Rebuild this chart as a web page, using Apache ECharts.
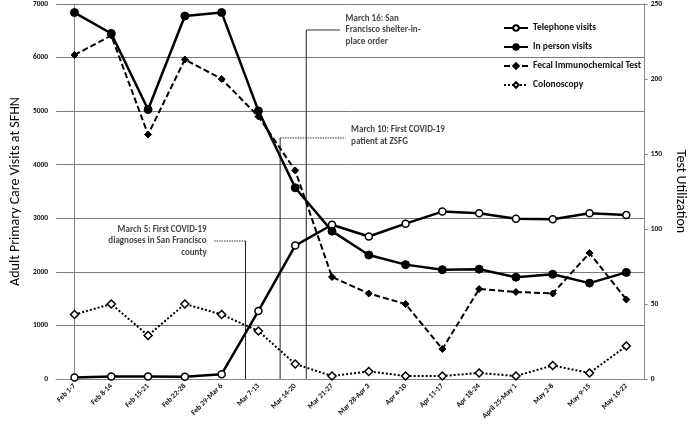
<!DOCTYPE html>
<html>
<head>
<meta charset="utf-8">
<script src="https://cdn.jsdelivr.net/npm/echarts@6/dist/echarts.min.js"></script>
<style>
html,body{margin:0;padding:0;background:#fff;}
#c{width:695px;height:424px;}
</style>
</head>
<body>
<div id="c"></div>
<script>
var categories = ['Feb 1-7','Feb 8-14','Feb 15-21','Feb 22-28','Feb 29-Mar 6','Mar 7-13','Mar 14-20','Mar 21-27','Mar 28-Apr 3','Apr 4-10','Apr 11-17','Apr 18-24','April 25-May 1','May 2-8','May 9-15','May 16-22'];
var telephoneVisits = [30, 45, 45, 40, 90, 1270, 2490, 2880, 2660, 2900, 3125, 3095, 2990, 2980, 3095, 3060];
var inPersonVisits = [6840, 6450, 5030, 6775, 6840, 5005, 3570, 2760, 2315, 2135, 2040, 2050, 1900, 1955, 1790, 1990];
var fitTests = [216, 229, 163, 213, 200, 175, 139, 68, 57, 50, 20, 60, 58, 57, 84, 53];
var colonoscopies = [43, 50, 29, 50, 43, 32, 10, 2, 5, 2, 2, 4, 2, 9, 4, 22];
var leftTicks = {min: 0, max: 7000, interval: 1000};
var rightTicks = {min: 0, max: 250, interval: 50};

// annotations: position along the category axis (index units), height on left axis, leader end
var annoText = ['March 5: First COVID-19\ndiagnoses in San Francisco\ncounty', 'March 10: First COVID-19\npatient at ZSFG', 'March 16: San\nFrancisco shelter-in-\nplace order'];
var annoX = [4.65, 5.59, 6.30];
var annoTop = [2576, 4499, 6515];
var annoEnd = [3.77, 7.37, 7.22];

var FONT = 'Carlito, Lato, sans-serif';
var chart = echarts.init(document.getElementById('c'), null, {renderer: 'canvas'});

var series = [
  {name: 'Telephone visits', type: 'line', data: telephoneVisits, yAxisIndex: 0, z: 5,
   symbol: 'circle', symbolSize: 7,
   lineStyle: {color: '#000', width: 2.5},
   itemStyle: {color: '#fff', borderColor: '#000', borderWidth: 1.5}},
  {name: 'In person visits', type: 'line', data: inPersonVisits, yAxisIndex: 0, z: 5,
   symbol: 'circle', symbolSize: 8,
   lineStyle: {color: '#000', width: 2.5},
   itemStyle: {color: '#000', borderColor: '#000', borderWidth: 1}},
  {name: 'Fecal Immunochemical Test', type: 'line', data: fitTests, yAxisIndex: 1, z: 4,
   symbol: 'diamond', symbolSize: 7,
   lineStyle: {color: '#000', width: 2, type: [6, 3]},
   itemStyle: {color: '#000', borderColor: '#000', borderWidth: 1}},
  {name: 'Colonoscopy', type: 'line', data: colonoscopies, yAxisIndex: 1, z: 4,
   symbol: 'diamond', symbolSize: 8,
   lineStyle: {color: '#000', width: 2, type: [2, 2]},
   itemStyle: {color: '#fff', borderColor: '#000', borderWidth: 1.5}}
];

for (var i = 0; i < annoX.length; i++) {
  series.push({type: 'line', xAxisIndex: 1, yAxisIndex: 0, symbol: 'none', silent: true, z: 2,
    data: [[annoX[i], 0], [annoX[i], annoTop[i]]],
    lineStyle: {color: '#222', width: 1}});
  series.push({type: 'line', xAxisIndex: 1, yAxisIndex: 0, symbol: 'none', silent: true, z: 2,
    data: [[annoX[i], annoTop[i]], [annoEnd[i], annoTop[i]]],
    lineStyle: {color: '#333', width: 1, type: i === 2 ? 'solid' : [1.5, 1]}});
  var left = annoEnd[i] < annoX[i];
  series.push({type: 'scatter', xAxisIndex: 1, yAxisIndex: 0, silent: true, z: 6,
    symbolSize: 1, itemStyle: {color: 'rgba(0,0,0,0)'},
    data: [[annoEnd[i], annoTop[i]]],
    label: {show: true, position: left ? 'left' : 'right', distance: left ? 6 : 5,
      formatter: annoText[i], align: left ? 'right' : 'left',
      offset: i === 1 ? [0, -2] : [0, 0],
      fontFamily: FONT, fontSize: 9, fontWeight: 'bold', color: '#111', lineHeight: 11.5}});
}

chart.setOption({
  animation: false,
  backgroundColor: '#fff',
  textStyle: {fontFamily: FONT},
  grid: {left: 55, right: 44, top: 4, bottom: 45, containLabel: false},
  legend: {
    orient: 'vertical', left: 498, top: 18, itemWidth: 24, itemHeight: 7, itemGap: 9,
    data: ['Telephone visits', 'In person visits', 'Fecal Immunochemical Test', 'Colonoscopy'],
    textStyle: {fontFamily: FONT, fontSize: 9.5, fontWeight: 'bold', color: '#111'}
  },
  xAxis: [
    {type: 'category', data: categories, boundaryGap: true,
     axisLine: {lineStyle: {color: '#868686', width: 1}},
     axisTick: {show: false},
     axisLabel: {interval: 0, rotate: 45, margin: 6, fontFamily: FONT, fontSize: 7.5, fontWeight: 'bold', color: '#111'}},
    {type: 'value', min: -0.5, max: 15.5, show: false}
  ],
  yAxis: [
    {type: 'value', position: 'left', min: leftTicks.min, max: leftTicks.max, interval: leftTicks.interval,
     name: 'Adult Primary Care Visits at SFHN', nameLocation: 'middle', nameRotate: 90, nameGap: 33,
     nameTextStyle: {fontFamily: FONT, fontSize: 14, color: '#000'},
     axisLine: {show: true, lineStyle: {color: '#868686', width: 1}},
     axisTick: {show: false},
     axisLabel: {margin: 8, fontFamily: FONT, fontSize: 7.5, fontWeight: 'bold', color: '#111',
       formatter: function (v) { return String(v); }},
     splitLine: {show: true, lineStyle: {color: '#7a7a7a', width: 1}}},
    {type: 'value', position: 'right', min: rightTicks.min, max: rightTicks.max, interval: rightTicks.interval,
     name: 'Test Utilization', nameLocation: 'middle', nameRotate: -90, nameGap: 28,
     nameTextStyle: {fontFamily: FONT, fontSize: 14, color: '#000'},
     axisLine: {show: true, lineStyle: {color: '#868686', width: 1}},
     axisTick: {show: true, length: 3, lineStyle: {color: '#868686'}},
     axisLabel: {margin: 6, fontFamily: FONT, fontSize: 7.5, fontWeight: 'bold', color: '#111',
       formatter: function (v) { return String(v); }},
     splitLine: {show: false}}
  ],
  series: series
});
</script>
</body>
</html>
